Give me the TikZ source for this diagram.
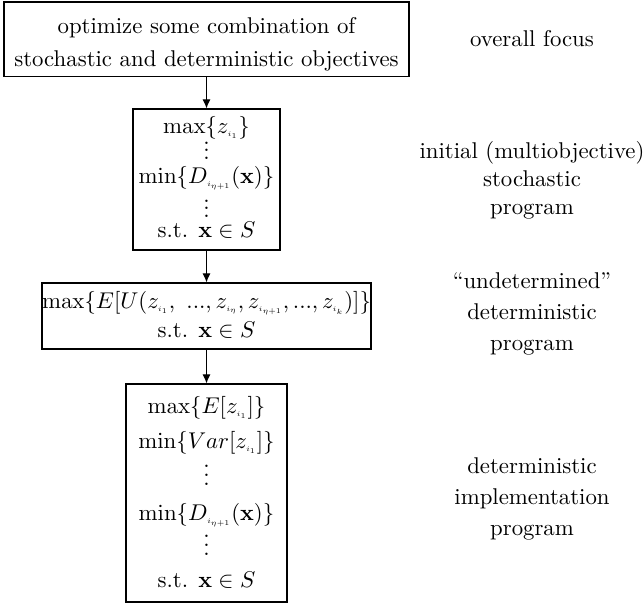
\documentclass[tikz,border=0pt]{standalone}
\usepackage{graphicx}
\usetikzlibrary{arrows.meta}
\newcommand\ssub[1]{\scalebox{0.65}{$\scriptscriptstyle #1$}}
\newcommand\myvdots[1]{\vbox{\baselineskip#1\lineskiplimit0pt\hbox{.}\hbox{.}\hbox{.}}}
\begin{document}
\begin{tikzpicture}[x=0.4386pt,y=-0.4386pt,
  box/.style={draw,line width=0.5pt,rectangle,inner sep=0pt},
  row/.style={anchor=base,inner sep=0pt},
  lbl/.style={anchor=base,inner sep=0pt},
  conn/.style={line width=0.5pt,-{Latex[length=4pt,width=3.6pt]}}]
\useasboundingbox (0,0) rectangle (644,603);
% boxes
\node[box,minimum width={405*0.4386pt},minimum height={74.5*0.4386pt}] (b1) at (206.5,39.25) {};
\node[box,minimum width={147*0.4386pt},minimum height={141*0.4386pt}] (b2) at (206.5,179.5) {};
\node[box,minimum width={329*0.4386pt},minimum height={66*0.4386pt}] (b3) at (206.5,316) {};
\node[box,minimum width={161*0.4386pt},minimum height={218*0.4386pt}] (b4) at (206.5,493) {};
% box 1 text
\node[row] (t11) at (206.5,33) {optimize some combination of};
\node[row] (t12) at (206.5,66) {stochastic and deterministic objectives};
% box 2 text
\node[row] (t21) at (206.5,133) {$\max\{z_{\ssub{i_1}}\}$};
\node[row] (t22) at (206.5,159) {\myvdots{3.1pt}};
\node[row] (t23) at (206.5,183) {$\min\{D_{\ssub{i_{\eta+1}}}(\mathbf{x})\}$};
\node[row] (t24) at (206.5,217) {\myvdots{3.1pt}};
\node[row] (t25) at (206.5,237) {s.t. $\mathbf{x}\in S$};
% box 3 text
\node[row] (t31) at (206.5,308) {$\max\{E[U(z_{\ssub{i_1}},\ ...,z_{\ssub{i_\eta}},z_{\ssub{i_{\eta+1}}},...,z_{\ssub{i_k}})]\}$};
\node[row] (t32) at (206.5,337) {s.t. $\mathbf{x}\in S$};
% box 4 text
\node[row] (t41) at (206.5,413) {$\max\{E[z_{\ssub{i_1}}]\}$};
\node[row] (t42) at (206.5,448) {$\min\{Var[z_{\ssub{i_1}}]\}$};
\node[row] (t43) at (206.5,485) {\myvdots{3.9pt}};
\node[row] (t44) at (206.5,520) {$\min\{D_{\ssub{i_{\eta+1}}}(\mathbf{x})\}$};
\node[row] (t45) at (206.5,555) {\myvdots{3.9pt}};
\node[row] (t46) at (206.5,587) {s.t. $\mathbf{x}\in S$};
% connectors
\draw[conn] (b1) -- (b2);
\draw[conn] (b2) -- (b3);
\draw[conn] (b3) -- (b4);
% right labels
\node[lbl] (l1) at (532,46) {overall focus};
\node[lbl] (l2a) at (532,158) {initial (multiobjective)};
\node[lbl] (l2b) at (532,186) {stochastic};
\node[lbl] (l2c) at (532,214) {program};
\node[lbl] (l3a) at (532,288) {``undetermined''};
\node[lbl] (l3b) at (532,319) {deterministic};
\node[lbl] (l3c) at (532,350) {program};
\node[lbl] (l4a) at (532,473) {deterministic};
\node[lbl] (l4b) at (532,504) {implementation};
\node[lbl] (l4c) at (532,535) {program};
\end{tikzpicture}
\end{document}
